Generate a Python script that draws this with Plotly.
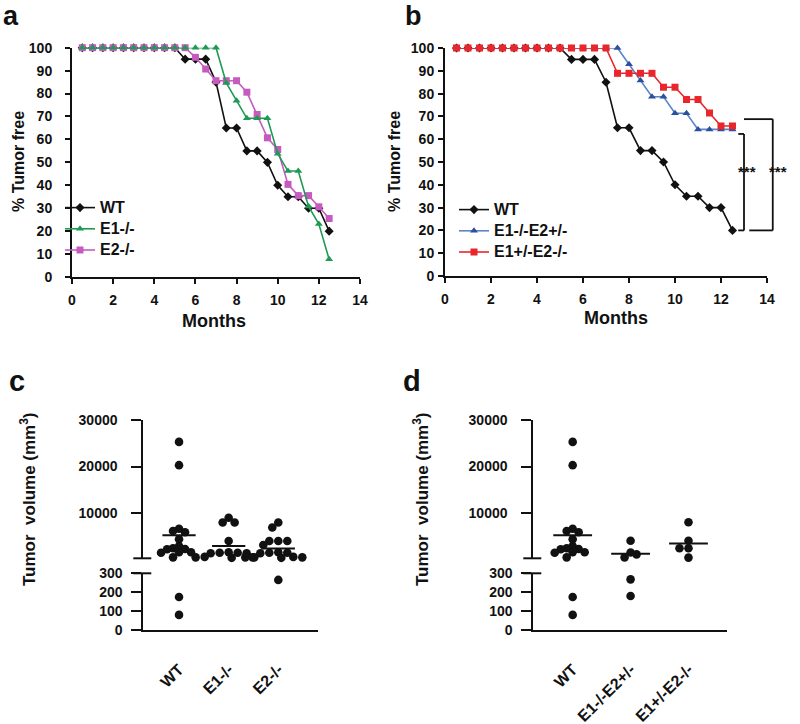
import numpy as np
import plotly.graph_objects as go

W, H = 800, 724

# ---------------- data ----------------
months = [0.5, 1.0, 1.5, 2.0, 2.5, 3.0, 3.5, 4.0, 4.5, 5.0, 5.5, 6.0, 6.5,
          7.0, 7.5, 8.0, 8.5, 9.0, 9.5, 10.0, 10.5, 11.0, 11.5, 12.0, 12.5]
free_wt = [100, 100, 100, 100, 100, 100, 100, 100, 100, 100, 95, 95, 95,
           85, 65, 65, 55, 55, 50, 40, 35, 35, 30, 30, 20]
free_e1ko = [100, 100, 100, 100, 100, 100, 100, 100, 100, 100, 100, 100, 100,
             100, 84.6, 76.9, 69.2, 69.2, 69.2, 53.8, 46.2, 46.2, 30.8, 23.1, 7.7]
free_e2ko = [100, 100, 100, 100, 100, 100, 100, 100, 100, 100, 100, 95.8, 90.7,
             85.6, 85.6, 85.6, 80.6, 70.9, 60.7, 55.6, 40.4, 35.5, 35.5, 30.6, 25.5]
free_e1ko_e2het = [100, 100, 100, 100, 100, 100, 100, 100, 100, 100, 100, 100, 100,
                   100, 100, 92.9, 85.7, 78.6, 78.6, 71.4, 71.4, 64.3, 64.3, 64.3, 64.3]
free_e1het_e2ko = [100, 100, 100, 100, 100, 100, 100, 100, 100, 100, 100, 100, 100,
                   100, 88.9, 88.9, 88.9, 88.9, 82.8, 82.8, 77.4, 77.4, 71.5, 65.8, 65.8]

groups_c = ["WT", "E1-/-", "E2-/-"]
groups_d = ["WT", "E1-/-E2+/-", "E1+/-E2-/-"]
vol_wt = [25300, 20300, 6650, 6150, 5900, 4400, 2950, 2450, 2300, 2250, 1600, 1600, 1500, 500, 175, 80]
vol_e1ko = [9000, 8000, 8000, 4000, 1600, 1500, 1500, 1400, 1400, 600, 500, 500, 400]
vol_e2ko = [8000, 6900, 4000, 4000, 4000, 3150, 1600, 1500, 1500, 1400, 600, 500, 500, 500, 400, 265]
vol_e1ko_e2het = [4080, 1550, 1150, 500, 268, 180]
vol_e1het_e2ko = [8030, 4080, 2450, 2450, 450]

# ---------------- geometry (pixels) ----------------
A_X, A_Y = (72, 360), (47.7, 277)
B_X, B_Y = (445, 767), (48, 276)
C_X, D_X = (143.3, 318), (533.3, 726.7)
UP_Y, LO_Y = (420, 558.3), (573.3, 630)
C_RANGE, D_RANGE = [-0.72, 2.8], [-0.68, 2.66]
UP_RANGE, LO_RANGE = [300, 30000], [0, 300]
BREAK = 300

def xd(p):
    return [p[0] / W, p[1] / W]

def yd(p):
    return [1 - p[1] / H, 1 - p[0] / H]

FONT = "Liberation Sans, Arial, sans-serif"
BLACK = "#111111"

fig = go.Figure()

# ---------------- survival panels ----------------
def surv(x, y, name, color, symbol, size, xa, ya, legend, rank, mcolor=None):
    fig.add_trace(go.Scatter(
        x=x, y=y, name='<span style="font-size:16px">%s</span>' % name,
        mode="lines+markers", xaxis=xa, yaxis=ya,
        line=dict(color=color, width=1.6),
        marker=dict(symbol=symbol, size=size, color=mcolor or color, line=dict(width=0)),
        cliponaxis=False, legend=legend, legendrank=rank))

surv(months, free_wt, "WT", BLACK, "diamond", 7, "x", "y", "legend", 1)
surv(months, free_e2ko, "E2-/-", "#c65bbf", "square", 7, "x", "y", "legend", 3)
surv(months, free_e1ko, "E1-/-", "#1f9a55", "triangle-up", 7, "x", "y", "legend", 2)

surv(months, free_wt, "WT", BLACK, "diamond", 7, "x2", "y2", "legend2", 1)
surv(months, free_e1ko_e2het, "E1-/-E2+/-", "#5a86c5", "triangle-up", 7, "x2", "y2", "legend2", 2, "#2c4f9e")
surv(months, free_e1het_e2ko, "E1+/-E2-/-", "#e8262b", "square", 7, "x2", "y2", "legend2", 3)

# ---------------- scatter (dot) panels ----------------
DOT = 8.6

def seg_px(v):
    """pixel y of a value on the broken axis"""
    if v > BREAK:
        return UP_Y[1] - (v - UP_RANGE[0]) / (UP_RANGE[1] - UP_RANGE[0]) * (UP_Y[1] - UP_Y[0])
    return LO_Y[1] - (v - LO_RANGE[0]) / (LO_RANGE[1] - LO_RANGE[0]) * (LO_Y[1] - LO_Y[0])

def swarm(vals, diam=DOT, step=3.0):
    ys = [seg_px(v) for v in vals]
    order = np.argsort(ys)
    placed = []
    offs = [0.0] * len(vals)
    for n, i in enumerate(order):
        k = 0
        sign = 1 if n % 2 == 0 else -1
        while True:
            cands = [0] if k == 0 else [sign * k * step, -sign * k * step]
            ok = None
            for c in cands:
                if all((c - px) ** 2 + (ys[i] - py) ** 2 >= (diam * 0.7) ** 2 for px, py in placed):
                    ok = c
                    break
            if ok is not None:
                offs[i] = ok
                placed.append((ok, ys[i]))
                break
            k += 1
    return offs

def dots(groups_vals, xpix, xrange, xa_lo, ya_lo, xa_up, ya_up):
    ppc = (xpix[1] - xpix[0]) / (xrange[1] - xrange[0])
    for gi, vals in enumerate(groups_vals):
        offs = swarm(vals)
        xs = [gi + o / ppc for o in offs]
        up = [(x, v) for x, v in zip(xs, vals) if v > BREAK]
        lo = [(x, v) for x, v in zip(xs, vals) if v <= BREAK]
        if up:
            fig.add_trace(go.Scatter(x=[p[0] for p in up], y=[p[1] for p in up], mode="markers",
                                     xaxis=xa_up, yaxis=ya_up, showlegend=False, cliponaxis=False,
                                     marker=dict(color=BLACK, size=DOT)))
        if lo:
            fig.add_trace(go.Scatter(x=[p[0] for p in lo], y=[p[1] for p in lo], mode="markers",
                                     xaxis=xa_lo, yaxis=ya_lo, showlegend=False, cliponaxis=False,
                                     marker=dict(color=BLACK, size=DOT)))
        m = float(np.mean(vals))
        fig.add_trace(go.Scatter(x=[gi - 0.335, gi + 0.335], y=[m, m], mode="lines",
                                 xaxis=xa_up if m > BREAK else xa_lo,
                                 yaxis=ya_up if m > BREAK else ya_lo,
                                 showlegend=False, line=dict(color=BLACK, width=2)))

dots([vol_wt, vol_e1ko, vol_e2ko], C_X, C_RANGE, "x3", "y3", "x5", "y5")
dots([vol_wt, vol_e1ko_e2het, vol_e1het_e2ko], D_X, D_RANGE, "x4", "y4", "x6", "y6")

# ---------------- axes ----------------
tickfont = dict(family=FONT, size=14, color=BLACK, weight="bold")
common = dict(showline=True, linecolor=BLACK, linewidth=2, ticks="outside", tickwidth=2,
              tickcolor=BLACK, showgrid=False, zeroline=False, tickfont=tickfont, automargin=False)

layout = dict(
    width=W, height=H, margin=dict(l=0, r=0, t=0, b=0, autoexpand=False),
    paper_bgcolor="white", plot_bgcolor="rgba(0,0,0,0)",
    font=dict(family=FONT, color=BLACK),
    xaxis=dict(domain=xd(A_X), range=[0, 14], dtick=2, anchor="y", ticklen=5,
               ticklabelstandoff=4, **common),
    yaxis=dict(domain=yd(A_Y), range=[0, 100], dtick=10, anchor="x", ticklen=5,
               ticklabelstandoff=10, **common),
    xaxis2=dict(domain=xd(B_X), range=[0, 14], dtick=2, anchor="y2", ticklen=5,
                ticklabelstandoff=4, **common),
    yaxis2=dict(domain=yd(B_Y), range=[0, 100], dtick=10, anchor="x2", ticklen=5,
                ticklabelstandoff=1, **common),
)
for xa, ya, xp, rng, labels, xa_up, ya_up in [("xaxis3", "yaxis3", C_X, C_RANGE, groups_c, "xaxis5", "yaxis5"),
                                               ("xaxis4", "yaxis4", D_X, D_RANGE, groups_d, "xaxis6", "yaxis6")]:
    xid, yid = xa.replace("axis", ""), ya.replace("axis", "")
    xid_up, yid_up = xa_up.replace("axis", ""), ya_up.replace("axis", "")
    layout[xa] = dict(domain=xd(xp), range=rng, anchor=yid, tickvals=list(range(len(labels))),
                      ticktext=labels, tickangle=-45, showline=True, linecolor=BLACK, linewidth=2,
                      ticks="", showgrid=False, zeroline=False, automargin=False,
                      tickfont=dict(family=FONT, size=16, color=BLACK, weight="bold"),
                      ticklabelstandoff=22)
    layout[ya] = dict(domain=yd(LO_Y), range=LO_RANGE, anchor=xid, tickvals=[0, 100, 200, 300],
                      ticklen=10, ticklabelstandoff=6, **common)
    layout[xa_up] = dict(domain=xd(xp), range=rng, anchor=yid_up, matches=xid, visible=False,
                         automargin=False)
    layout[ya_up] = dict(domain=yd(UP_Y), range=UP_RANGE, anchor=xid_up,
                         tickvals=[10000, 20000, 30000], tickformat="d",
                         ticklen=10, ticklabelstandoff=11, **common)

fig.update_layout(**layout)

# legends (legend font 14 sets the row pitch; names carry the 16px size)
legfont = dict(family=FONT, size=14, color=BLACK, weight="bold")
fig.update_layout(
    legend=dict(x=60 / W, y=1 - 192 / H, xanchor="left", yanchor="top", font=legfont,
                bgcolor="rgba(0,0,0,0)", itemwidth=30, tracegroupgap=0),
    legend2=dict(x=454 / W, y=1 - 194 / H, xanchor="left", yanchor="top", font=legfont,
                 bgcolor="rgba(0,0,0,0)", itemwidth=30, tracegroupgap=0),
)

# ---------------- annotations ----------------
ann = []
def text(x, y, s, size, angle=0, xanchor="center", yanchor="middle"):
    ann.append(dict(x=x / W, y=1 - y / H, xref="paper", yref="paper", text=s, showarrow=False,
                    textangle=angle, xanchor=xanchor, yanchor=yanchor,
                    font=dict(family=FONT, size=size, color=BLACK, weight="bold")))

text(11, 16.5, "a", 27)
text(414, 16.5, "b", 27)
text(17, 381, "c", 29)
text(412, 381, "d", 29)
text(214, 321, "Months", 18)
text(616, 318, "Months", 18)
text(18, 162, "% Tumor free", 16, -90)
text(394, 162, "% Tumor free", 16, -90)
text(28, 499, "Tumor&nbsp; volume (mm<sup>3</sup>)", 17, -90)
text(421, 499, "Tumor&nbsp; volume (mm<sup>3</sup>)", 17, -90)

# significance brackets (panel b), in axis-domain coordinates
def dx(m):
    return m / 14.0
def dy(v):
    return v / 100.0
shapes = []
def seg(x0, y0, x1, y1):
    shapes.append(dict(type="line", xref="x2 domain", yref="y2 domain",
                       x0=dx(x0), y0=dy(y0), x1=dx(x1), y1=dy(y1),
                       line=dict(color=BLACK, width=1.8)))
inner_top, bottom, outer_top = free_e1ko_e2het[-1] - 2, free_wt[-1], free_e1het_e2ko[-1] + 3
seg(12.75, inner_top, 13.0, inner_top)
seg(13.0, inner_top, 13.0, bottom)
seg(12.75, bottom, 13.0, bottom)
seg(13.0, outer_top, 14.25, outer_top)
seg(14.25, outer_top, 14.25, bottom)
seg(13.23, bottom, 14.25, bottom)
for xm in (13.6, 14.97):
    ann.append(dict(x=dx(xm), y=dy(45.7), xref="x2 domain", yref="y2 domain", text="***",
                    showarrow=False, font=dict(family=FONT, size=15, color=BLACK, weight="bold")))

# break marks of the split axes
for xr, ylo, yup in [("x3 domain", "y3 domain", "y5 domain"), ("x4 domain", "y4 domain", "y6 domain")]:
    for yr, yv in [(ylo, 1), (yup, 0)]:
        shapes.append(dict(type="line", xref=xr, yref=yr, xsizemode="pixel", xanchor=0,
                           x0=-10, x1=8, y0=yv, y1=yv, line=dict(color=BLACK, width=2)))

fig.update_layout(annotations=ann, shapes=shapes)
fig.write_html("out.html", config={"displayModeBar": False},
               post_script="document.body.style.margin='0px';document.body.style.overflow='hidden';")
